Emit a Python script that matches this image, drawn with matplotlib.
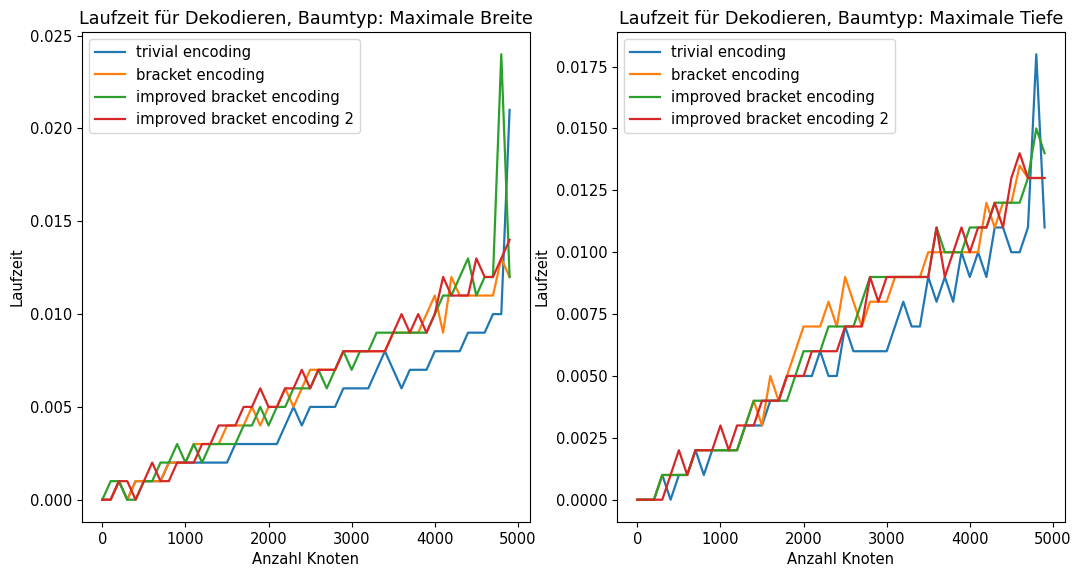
import numpy as np
import matplotlib
matplotlib.use("Agg")
import matplotlib.pyplot as plt

plt.rcParams["font.size"] = 10.6
plt.rcParams["lines.linewidth"] = 1.6

# anzahl knoten
knoten = list(range(0, 5000, 100))

labels = ["trivial encoding", "bracket encoding",
          "improved bracket encoding", "improved bracket encoding 2"]

# laufzeiten in ms, maximale breite
breite_trivial = [0, 0, 1, 0, 1, 1, 1, 1, 2, 2, 2, 2, 2, 2, 2, 2, 3, 3, 3, 3,
                  3, 3, 4, 5, 4, 5, 5, 5, 5, 6, 6, 6, 6, 7, 8, 7, 6, 7, 7, 7,
                  8, 8, 8, 8, 9, 9, 9, 10, 10, 21]
breite_bracket = [0, 0, 1, 0, 1, 1, 1, 1, 2, 2, 2, 3, 3, 3, 3, 4, 4, 4, 5, 4,
                  5, 5, 6, 5, 6, 7, 7, 7, 7, 8, 8, 8, 8, 8, 8, 9, 9, 9, 9, 10,
                  11, 9, 12, 11, 11, 11, 11, 11, 13, 12]
breite_improved = [0, 1, 1, 0, 0, 1, 1, 2, 2, 3, 2, 3, 2, 3, 3, 3, 3, 4, 4, 5,
                   4, 5, 5, 6, 6, 6, 7, 6, 7, 8, 7, 8, 8, 9, 9, 9, 9, 9, 9, 9,
                   10, 11, 11, 12, 13, 11, 12, 12, 24, 12]
breite_improved2 = [0, 0, 1, 1, 0, 1, 2, 1, 1, 2, 2, 2, 3, 3, 4, 4, 4, 5, 5, 6,
                    5, 5, 6, 6, 7, 6, 7, 7, 7, 8, 8, 8, 8, 8, 8, 9, 10, 9, 10, 9,
                    10, 12, 11, 11, 11, 13, 12, 12, 13, 14]

# laufzeiten in ms, maximale tiefe
tiefe_trivial = [0, 0, 0, 1, 0, 1, 1, 2, 1, 2, 2, 2, 2, 3, 3, 3, 4, 4, 5, 5,
                 5, 5, 6, 5, 5, 7, 6, 6, 6, 6, 6, 7, 8, 7, 7, 9, 8, 9, 8, 10,
                 9, 10, 9, 11, 11, 10, 10, 11, 18, 11]
tiefe_bracket = [0, 0, 0, 1, 1, 1, 1, 2, 2, 2, 2, 2, 2, 3, 4, 3, 5, 4, 5, 6,
                 7, 7, 7, 8, 7, 9, 8, 7, 8, 8, 8, 9, 9, 9, 9, 10, 10, 10, 10, 10,
                 10, 10, 12, 11, 12, 12, 13.5, 13, 13, 13]
tiefe_improved = [0, 0, 0, 1, 1, 1, 1, 2, 2, 2, 2, 2, 2, 3, 4, 4, 4, 4, 4, 5,
                  6, 6, 6, 7, 7, 7, 7, 8, 9, 9, 9, 9, 9, 9, 9, 9, 11, 10, 10, 10,
                  11, 11, 11, 12, 12, 12, 12, 13, 15, 14]
tiefe_improved2 = [0, 0, 0, 0, 1, 2, 1, 2, 2, 2, 3, 2, 3, 3, 3, 4, 4, 4, 5, 5,
                   5, 6, 6, 6, 6, 7, 7, 7, 9, 8, 9, 9, 9, 9, 9, 9, 11, 9, 10, 11,
                   10, 11, 11, 12, 11, 13, 14, 13, 13, 13]

breite = [breite_trivial, breite_bracket, breite_improved, breite_improved2]
tiefe = [tiefe_trivial, tiefe_bracket, tiefe_improved, tiefe_improved2]

fig = plt.figure(figsize=(10.73, 5.68), dpi=100)
ax1 = fig.add_axes([0.0764, 0.081, 0.4175, 0.8627])
ax2 = fig.add_axes([0.575, 0.081, 0.4175, 0.8627])

for ax, daten, titel in [(ax1, breite, "Maximale Breite"), (ax2, tiefe, "Maximale Tiefe")]:
    for werte, label in zip(daten, labels):
        ax.plot(knoten, np.array(werte) / 1000, label=label)
    ax.set_title("Laufzeit für Dekodieren, Baumtyp: " + titel)
    ax.set_xlabel("Anzahl Knoten")
    ax.set_ylabel("Laufzeit")
    ax.legend(loc="upper left")

fig.savefig("out.png", dpi=100)
